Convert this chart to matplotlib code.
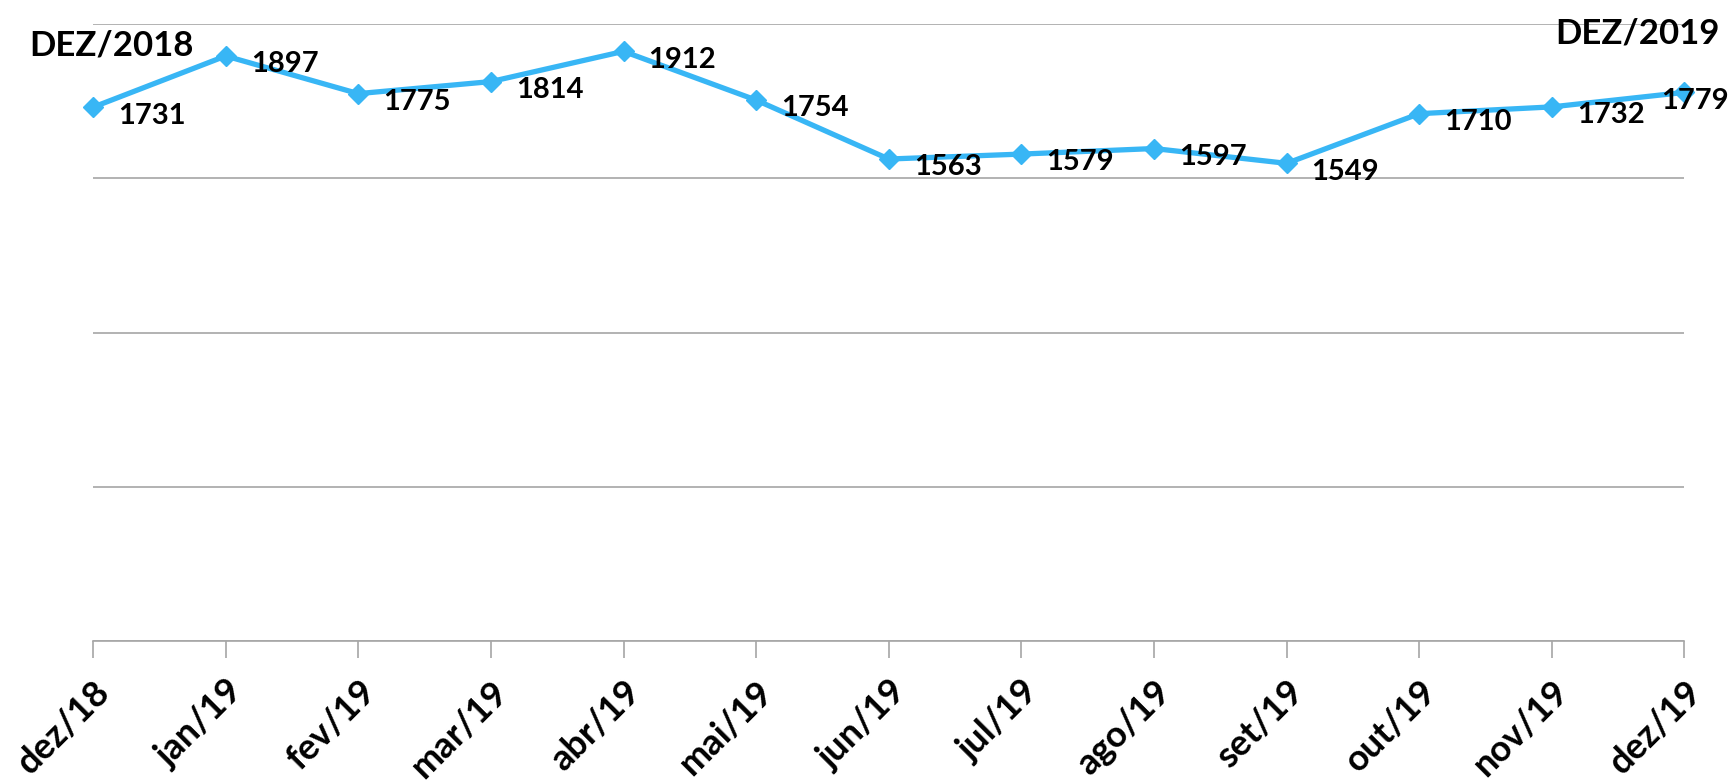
import matplotlib
matplotlib.use("Agg")
import matplotlib.pyplot as plt

# monthly values, dez/18 .. dez/19
months = ['dez/18', 'jan/19', 'fev/19', 'mar/19', 'abr/19', 'mai/19', 'jun/19',
          'jul/19', 'ago/19', 'set/19', 'out/19', 'nov/19', 'dez/19']
values = [1731, 1897, 1775, 1814, 1912, 1754, 1563, 1579, 1597, 1549, 1710, 1732, 1779]
y_grid = [0, 500, 1000, 1500, 2000]

line_color = '#38b6f5'
plt.rcParams['font.family'] = ['Lato', 'DejaVu Sans']

fig = plt.figure(figsize=(17.33, 7.81), dpi=100)
ax = fig.add_axes([0.0537, 0.179, 0.9183, 0.790])

x = list(range(len(months)))
ax.plot(x, values, color=line_color, lw=3.8, marker='D', ms=10,
        clip_on=False, zorder=3)

# value labels right of each point
for i, v in enumerate(values):
    dx = 18 if i < len(values) - 1 else -17
    ax.annotate(str(v), (i, v), xytext=(dx, -6), textcoords='offset points',
                ha='left', va='center', fontsize=21, fontweight='bold', zorder=4)

ax.set_xlim(0, len(months) - 1)
ax.set_ylim(0, 2000)
ax.set_yticks(y_grid)
ax.set_yticklabels([])
ax.tick_params(axis='y', length=0)
ax.grid(axis='y', color='#a6a6a6', lw=1.2)
ax.set_axisbelow(True)

ax.set_xticks(x)
ax.set_xticklabels(months, rotation=45, ha='right', va='top',
                   rotation_mode='anchor', fontsize=26, fontweight='bold')
ax.tick_params(axis='x', length=12, width=1.2, color='#a6a6a6', pad=12)

for s in ['top', 'left', 'right']:
    ax.spines[s].set_visible(False)
ax.spines['bottom'].set_color('#a6a6a6')
ax.spines['bottom'].set_linewidth(1.2)

fig.text(0.017, 0.942, 'DEZ/2018', fontsize=25, fontweight='bold', va='center')
fig.text(0.992, 0.957, 'DEZ/2019', fontsize=25, fontweight='bold', va='center', ha='right')

fig.savefig('out.png', dpi=100, facecolor='white')
